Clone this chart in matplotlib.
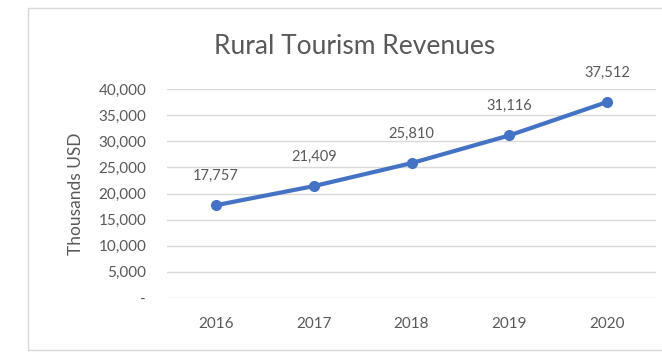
import matplotlib
matplotlib.use('Agg')
import matplotlib.pyplot as plt
from matplotlib.patches import Rectangle

plt.rcParams['font.family'] = ['Lato', 'DejaVu Sans']

years = ['2016', '2017', '2018', '2019', '2020']
revenues = [17757, 21409, 25810, 31116, 37512]
y_ticks = [0, 5000, 10000, 15000, 20000, 25000, 30000, 35000, 40000]

text_grey = '#595959'
line_blue = '#4472C4'

fig = plt.figure(figsize=(6.62, 3.52), dpi=100)
fig.patch.set_facecolor('white')

# chart frame
fig.patches.append(Rectangle((28 / 662, 2 / 352), 640 / 662, 342 / 352,
                             transform=fig.transFigure, fill=False,
                             edgecolor='#d9d9d9', linewidth=1.0))

ax = fig.add_axes([167 / 662, 1 - 298 / 352, 489 / 662, 209 / 352])
x = list(range(len(years)))
ax.plot(x, revenues, color=line_blue, linewidth=3, marker='o',
        markersize=7, solid_capstyle='round', zorder=3)

for xi, v in zip(x, revenues):
    ax.annotate(f'{v:,}', (xi, v), xytext=(0, 16), textcoords='offset points',
                ha='center', va='bottom', fontsize=10.5, color=text_grey)

ax.set_xlim(-0.5, len(years) - 0.5)
ax.set_ylim(0, 40000)
ax.set_xticks(x)
ax.set_xticklabels(years)
ax.set_yticks(y_ticks)
ax.set_yticklabels(['-' if t == 0 else f'{t:,}' for t in y_ticks])
ax.tick_params(axis='both', length=0, labelsize=11, colors=text_grey)
ax.tick_params(axis='x', pad=14)
ax.tick_params(axis='y', pad=15)
ax.grid(axis='y', color='#d9d9d9', linewidth=1.0)
ax.set_axisbelow(True)
for s in ax.spines.values():
    s.set_visible(False)

ax.set_ylabel('Thousands USD', fontsize=12.5, color=text_grey, labelpad=10)
fig.text(355 / 662, 1 - 47 / 352, 'Rural Tourism Revenues', ha='center',
         va='center', fontsize=19, color=text_grey)

fig.savefig('out.png', dpi=100)
